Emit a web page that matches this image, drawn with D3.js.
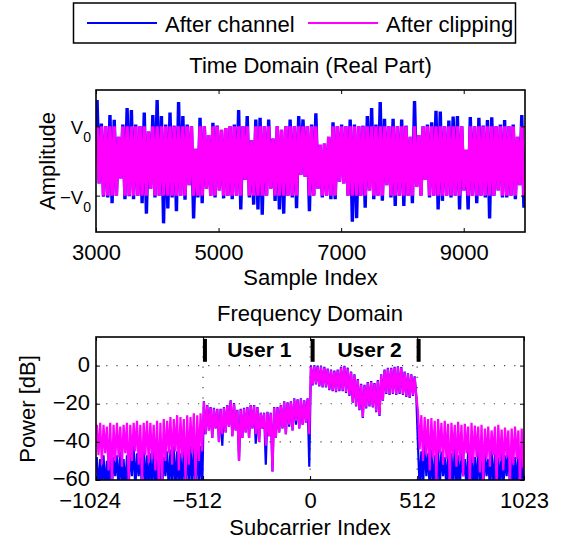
<!DOCTYPE html>
<html>
<head>
<meta charset="utf-8">
<script src="https://d3js.org/d3.v7.min.js"></script>
<style>
body{margin:0;background:#fff;}
text{font-family:"Liberation Sans",Arial,Helvetica,sans-serif;}
</style>
</head>
<body>
<div id="chart"></div>
<script>
// ---- time domain (real part): peaks per block of 70 samples, in units of V0
const tStart = 3000, tBlock = 70;
const chanHi = [1.76,1.08,1.00,1.33,1.19,0.70,1.05,1.53,1.47,1.05,
1.00,1.40,0.85,1.33,1.76,1.30,1.05,1.40,1.02,1.70,
1.30,1.05,1.00,0.35,1.25,1.00,0.75,1.10,1.02,0.90,
0.95,1.00,1.05,1.47,1.00,1.30,0.60,1.20,1.25,1.00,
1.20,0.65,1.00,0.90,1.00,1.20,1.00,1.30,1.20,1.00,
1.05,1.38,0.47,0.50,0.70,1.12,1.00,1.05,1.00,1.20,
1.05,1.00,1.02,1.30,1.53,1.05,1.70,1.22,1.00,1.22,
1.00,1.20,1.02,0.70,1.73,0.75,1.00,1.05,1.12,1.45,
1.43,1.00,1.17,1.28,1.30,1.00,0.32,1.27,1.00,1.25,
1.02,1.18,1.26,1.00,1.05,1.18,1.00,1.05,0.70,1.33];
const chanLo = [-0.65,-1.03,-1.05,-1.22,-1.00,-0.50,-1.10,-1.02,-1.10,-1.00,
-1.22,-1.52,-0.80,-1.05,-1.00,-1.80,-1.37,-1.05,-1.45,-1.00,
-1.12,-0.70,-1.66,-1.05,-1.22,-0.80,-1.00,-1.05,-0.85,-1.08,
-1.00,-1.10,-1.00,-1.40,-0.55,-1.05,-1.26,-1.40,-1.55,-1.00,
-0.80,-1.15,-1.40,-1.52,-1.00,-1.05,-1.36,-0.40,-0.45,-1.45,
-1.00,-0.80,-1.05,-1.00,-1.10,-1.10,-0.60,-0.65,-1.00,-1.75,
-1.65,-1.00,-1.35,-0.85,-1.10,-1.00,-1.15,-0.70,-1.05,-1.30,
-1.00,-1.30,-1.00,-1.22,-0.75,-1.00,-0.55,-1.05,-1.00,-1.40,
-1.15,-1.00,-1.05,-1.00,-1.40,-0.85,-1.40,-1.00,-1.22,-1.00,
-1.05,-1.66,-1.00,-0.85,-1.05,-1.05,-1.00,-1.10,-0.70,-1.35];
const clipHi = [1,1,1,1,1,0.70,1,1,1,1,
1,1,0.85,1,1,1,1,1,1,1,
1,1,1,0.35,1,1,0.75,1,1,0.90,
0.95,1,1,1,1,1,0.60,1,1,1,
1,0.65,1,0.90,1,1,1,1,1,1,
1,1,0.47,0.50,0.70,1,1,1,1,1,
1,1,1,1,1,1,1,1,1,1,
1,1,1,0.70,1,0.75,1,1,1,1,
1,1,1,1,1,1,0.32,1,1,1,
1,1,1,1,1,1,1,1,0.70,1];
const clipLo = [-0.65,-1,-1,-1,-1,-0.50,-1,-1,-1,-1,
-1,-1,-0.80,-1,-1,-1,-1,-1,-1,-1,
-1,-0.70,-1,-1,-1,-0.80,-1,-1,-0.85,-1,
-1,-1,-1,-1,-0.55,-1,-1,-1,-1,-1,
-0.80,-1,-1,-1,-1,-1,-1,-0.40,-0.45,-1,
-1,-0.80,-1,-1,-1,-1,-0.60,-0.65,-1,-1,
-1,-1,-1,-0.85,-1,-1,-1,-0.70,-1,-1,
-1,-1,-1,-1,-0.75,-1,-0.55,-1,-1,-1,
-1,-1,-1,-1,-1,-0.85,-1,-1,-1,-1,
-1,-1,-1,-0.85,-1,-1,-1,-1,-0.70,-1];
const timeTicks = [3000,5000,7000,9000];
const ampTicks = [1,-1];
const ampLabels = [["V","0"],["\u2212V","0"]];

// ---- frequency domain: power [dB] peaks per block of 16 subcarriers
const fStart = -1024, fBlock = 16;
const fChanHi = [-48,-49,-47,-50,-46,-48,-47,-45,-49,-47,-44,-42,-46,-48,-41,-47,-46,-45,-49,-47,-48,-45,-44,-42,-45,-46,-43,-40,-42,-41,-40,-42,
-18.7,-20.7,-21.7,-22.2,-22.7,-22.7,-21.7,-20.7,-18.2,-19.7,-23.2,-22.7,-22.2,-21.7,-20.7,-20.7,-21.7,-24.7,-24.7,-24.2,-24.7,-21.7,-21.7,-20.7,-18.7,-19.2,-18.7,-17.2,-17.7,-17.2,-18.2,-17.2,
0,0.2,0,-0.4,-0.6,-1.6,-2.1,-2.6,-2.1,-0.6,-0.1,-1.1,-3.1,-4.6,-7.1,-9.6,-10.1,-8.6,-8.1,-9.1,-7.6,-4.6,-2.1,-1.1,-1.1,-0.6,-0.4,-0.8,-3.1,-4.1,-4.6,-5.6,
-42,-45,-41,-46,-44,-47,-43,-45,-48,-44,-46,-42,-47,-45,-49,-44,-46,-48,-43,-47,-45,-49,-44,-46,-48,-45,-47,-43,-46,-48,-44,-46];
const fChanLo = [-65,-65,-65,-65,-65,-58,-65,-65,-65,-65,-58,-65,-58,-65,-65,-65,-65,-65,-65,-65,-58,-65,-65,-65,-65,-65,-65,-65,-65,-65,-65,-65,
-36,-34,-38,-33,-40,-42,-35,-32,-37,-34,-50,-38,-35,-38,-33,-41,-40,-33,-52,-37,-55.5,-38,-35,-33,-36,-32,-34,-31,-33,-31,-30,-53,
-10.4,-9.9,-10.9,-11.4,-11.4,-12.9,-13.4,-13.9,-13.4,-13.4,-14.4,-15.9,-19.4,-21.4,-23.4,-27.4,-22.4,-21.4,-21.9,-24.4,-26.4,-18.4,-14.9,-15.4,-14.9,-15.4,-14.9,-15.4,-16.4,-16.9,-15.9,-16.4,
-65,-65,-58,-65,-65,-65,-65,-58,-65,-65,-65,-65,-65,-58,-65,-65,-65,-65,-65,-65,-58,-65,-65,-65,-65,-65,-58,-65,-65,-65,-65,-65];
const fClipHi = [-31,-30,-31,-32,-30,-31,-30,-32,-31,-30,-31,-30,-29,-31,-30,-29,-30,-31,-29,-30,-28,-29,-27,-28,-26,-27,-28,-26,-27,-25,-26,-25,
-19,-21,-22,-22.5,-23,-23,-22,-21,-18.5,-20,-23.5,-23,-22.5,-22,-21,-21,-22,-25,-25,-24.5,-25,-22,-22,-21,-19,-19.5,-19,-17.5,-18,-17.5,-18.5,-17.5,
-0.5,-0.3,-0.5,-0.8,-1,-2,-2.5,-3,-2.5,-1,-0.5,-1.5,-3.5,-5,-7.5,-10,-10.5,-9,-8.5,-9.5,-8,-5,-2.5,-1.5,-1.5,-1,-0.8,-1.2,-3.5,-4.5,-5,-6,
-24,-26,-27,-28,-27.5,-29,-28,-30,-29,-30.5,-30,-31,-29.5,-31,-30.5,-32,-30,-31.5,-32,-31,-33,-32,-34,-32,-31,-33.5,-32.5,-34,-33,-32,-34,-33];
const fClipLo = [-47,-52,-46,-55,-61,-50,-48,-53,-46,-60,-50,-45,-52,-60,-47,-51,-49,-55,-62,-61,-50,-46,-52,-45,-55,-48,-60,-52,-46,-60,-50,-45,
-36,-34,-38,-33,-40,-36,-35,-32,-37,-34,-50,-38,-35,-38,-33,-36,-40,-33,-42,-37,-55.5,-38,-35,-33,-36,-31,-34,-29,-33,-31,-30,-36,
-10,-9.5,-10.5,-11,-11,-12.5,-13,-13.5,-13,-13,-14,-15.5,-19,-21,-23,-27,-22,-21,-21.5,-24,-26,-18,-14.5,-15,-14.5,-15,-14.5,-15,-16,-16.5,-15.5,-16,
-44,-50,-47,-55,-48,-60,-46,-52,-49,-61,-47,-53,-50,-58,-46,-62,-51,-48,-56,-61,-49,-53,-47,-62,-50,-55,-48,-61,-52,-49,-62,-54];
const freqTicks = [-1024,-512,0,512,1023];
const powerTicks = [0,-20,-40,-60];
const gridX = [-512,0,512];
const gridY = [0,-20,-40];
const userBars = [-503,12,519];
const userNames = ["User 1","User 2"];
const userCenters = [-243,284];

const W = 566, H = 542;
const blue = "#0000ff", magenta = "#ff00ff";

const svg = d3.select("#chart").append("svg")
  .attr("width",W).attr("height",H)
  .style("display","block");

const fontSize = 22;

// zigzag through block peaks (max then min of each block)
function zigzag(hi, lo, start, block){
  const pts = [];
  hi.forEach((h,i)=>{
    pts.push([start+block*i+block*0.25, h]);
    pts.push([start+block*i+block*0.75, lo[i]]);
  });
  return pts;
}
const minus = d => d<0 ? "\u2212"+Math.abs(d) : String(d);

// ---------- legend
const leg = svg.append("g");
leg.append("rect").attr("x",73.5).attr("y",3).attr("width",442).attr("height",40)
  .attr("fill","#fff").attr("stroke","#000").attr("stroke-width",1.5);
leg.append("line").attr("x1",87).attr("x2",157).attr("y1",23).attr("y2",23)
  .attr("stroke",blue).attr("stroke-width",2);
leg.append("text").attr("x",165).attr("y",31.5).attr("font-size",fontSize).text("After channel");
leg.append("line").attr("x1",308).attr("x2",378).attr("y1",23).attr("y2",23)
  .attr("stroke",magenta).attr("stroke-width",2);
leg.append("text").attr("x",386).attr("y",31.5).attr("font-size",fontSize).text("After clipping");

// ---------- time domain
const xT = d3.scaleLinear().domain([3000,10000]).range([96,525]);
const yT = d3.scaleLinear().domain([-2.05,2.05]).range([232,90]);

svg.append("clipPath").attr("id","clipT").append("rect")
  .attr("x",96).attr("y",90).attr("width",429).attr("height",142);

const lineT = d3.line().x(d=>xT(d[0])).y(d=>yT(d[1]));
const gT = svg.append("g").attr("clip-path","url(#clipT)");
gT.append("path").datum(zigzag(chanHi,chanLo,tStart,tBlock))
  .attr("fill","none").attr("stroke",blue).attr("stroke-width",3.4).attr("d",lineT);
gT.append("path").datum(zigzag(clipHi,clipLo,tStart,tBlock))
  .attr("fill","none").attr("stroke",magenta).attr("stroke-width",3.4).attr("d",lineT);

// axes (ticks inside, MATLAB style)
svg.append("g").attr("transform","translate(0,232)")
  .call(d3.axisBottom(xT).tickValues(timeTicks).tickSize(-4).tickPadding(12).tickFormat(d3.format("d")));
svg.append("g").attr("transform","translate(0,90)")
  .call(d3.axisTop(xT).tickValues(timeTicks).tickSize(-4).tickFormat(""));
svg.append("g").attr("transform","translate(96,0)")
  .call(d3.axisLeft(yT).tickValues(ampTicks).tickSize(-4).tickFormat(""));
svg.append("g").attr("transform","translate(525,0)")
  .call(d3.axisRight(yT).tickValues(ampTicks).tickSize(-4).tickFormat(""));

// V0 labels with subscript
ampTicks.forEach((v,i)=>{
  const t = svg.append("text").attr("x",91).attr("y",yT(v)+8)
    .attr("text-anchor","end").attr("font-size",18.5);
  t.append("tspan").text(ampLabels[i][0]);
  t.append("tspan").attr("font-size",14).attr("dy",8).text(ampLabels[i][1]);
});

svg.append("rect").attr("x",96).attr("y",90).attr("width",429).attr("height",142)
  .attr("fill","none").attr("stroke","#000").attr("stroke-width",1.6);

svg.append("text").attr("x",310.5).attr("y",73).attr("text-anchor","middle")
  .attr("font-size",fontSize).text("Time Domain (Real Part)");
svg.append("text").attr("x",310.5).attr("y",285).attr("text-anchor","middle")
  .attr("font-size",fontSize).text("Sample Index");
svg.append("text").attr("transform","translate(55,161) rotate(-90)").attr("text-anchor","middle")
  .attr("font-size",fontSize).text("Amplitude");

// ---------- frequency domain
const xF = d3.scaleLinear().domain([-1024,1023]).range([96,524]);
const yF = d3.scaleLinear().domain([-60,15]).range([480,337]);

svg.append("clipPath").attr("id","clipF").append("rect")
  .attr("x",96).attr("y",337).attr("width",428).attr("height",143);

// dotted grid
const grid = svg.append("g").attr("stroke","#444").attr("stroke-width",1.2)
  .attr("stroke-dasharray","1.2,9");
grid.selectAll("line.gx").data(gridX).join("line").attr("class","gx")
  .attr("x1",d=>xF(d)).attr("x2",d=>xF(d)).attr("y1",480).attr("y2",337);
grid.selectAll("line.gy").data(gridY).join("line").attr("class","gy")
  .attr("x1",96).attr("x2",524).attr("y1",d=>yF(d)).attr("y2",d=>yF(d));

const lineF = d3.line().x(d=>xF(d[0])).y(d=>yF(d[1]));
const gF = svg.append("g").attr("clip-path","url(#clipF)");
gF.append("path").datum(zigzag(fChanHi,fChanLo,fStart,fBlock))
  .attr("fill","none").attr("stroke",blue).attr("stroke-width",2.2).attr("d",lineF);
gF.append("path").datum(zigzag(fClipHi,fClipLo,fStart,fBlock))
  .attr("fill","none").attr("stroke",magenta).attr("stroke-width",2.2).attr("d",lineF);

const axFx = svg.append("g").attr("transform","translate(0,480)")
  .call(d3.axisBottom(xF).tickValues(freqTicks).tickSize(-4).tickPadding(12.5).tickFormat(minus));
axFx.selectAll("text").attr("dx",d=>d<0 ? "-0.29em" : 0);
const axFy = svg.append("g").attr("transform","translate(96,0)")
  .call(d3.axisLeft(yF).tickValues(powerTicks).tickSize(-4).tickPadding(6).tickFormat(minus));
axFy.selectAll("text").attr("dy","0.26em");
svg.append("g").attr("transform","translate(0,337)")
  .call(d3.axisTop(xF).tickValues(freqTicks).tickSize(-4).tickFormat(""));
svg.append("g").attr("transform","translate(524,0)")
  .call(d3.axisRight(yF).tickValues(powerTicks).tickSize(-4).tickFormat(""));

// user band markers
svg.selectAll("rect.ubar").data(userBars).join("rect").attr("class","ubar")
  .attr("x",d=>xF(d)-2).attr("width",4)
  .attr("y",yF(14)).attr("height",yF(2)-yF(14)).attr("fill","#000");
svg.selectAll("text.uname").data(userNames).join("text").attr("class","uname")
  .attr("x",(d,i)=>xF(userCenters[i])).attr("y",357).attr("text-anchor","middle")
  .attr("font-size",21).attr("font-weight","bold").text(d=>d);

svg.append("rect").attr("x",96).attr("y",337).attr("width",428).attr("height",143)
  .attr("fill","none").attr("stroke","#000").attr("stroke-width",1.6);

svg.append("text").attr("x",310).attr("y",321).attr("text-anchor","middle")
  .attr("font-size",fontSize).text("Frequency Domain");
svg.append("text").attr("x",310).attr("y",535).attr("text-anchor","middle")
  .attr("font-size",fontSize).text("Subcarrier Index");
svg.append("text").attr("transform","translate(35,409) rotate(-90)").attr("text-anchor","middle")
  .attr("font-size",fontSize).text("Power [dB]");

// common axis styling
svg.selectAll(".tick text").attr("font-size",fontSize).attr("font-family","'Liberation Sans',Arial,sans-serif").attr("fill","#000");
svg.selectAll(".tick line").attr("stroke","#000").attr("stroke-width",1);
svg.selectAll(".domain").remove();
</script>
</body>
</html>
